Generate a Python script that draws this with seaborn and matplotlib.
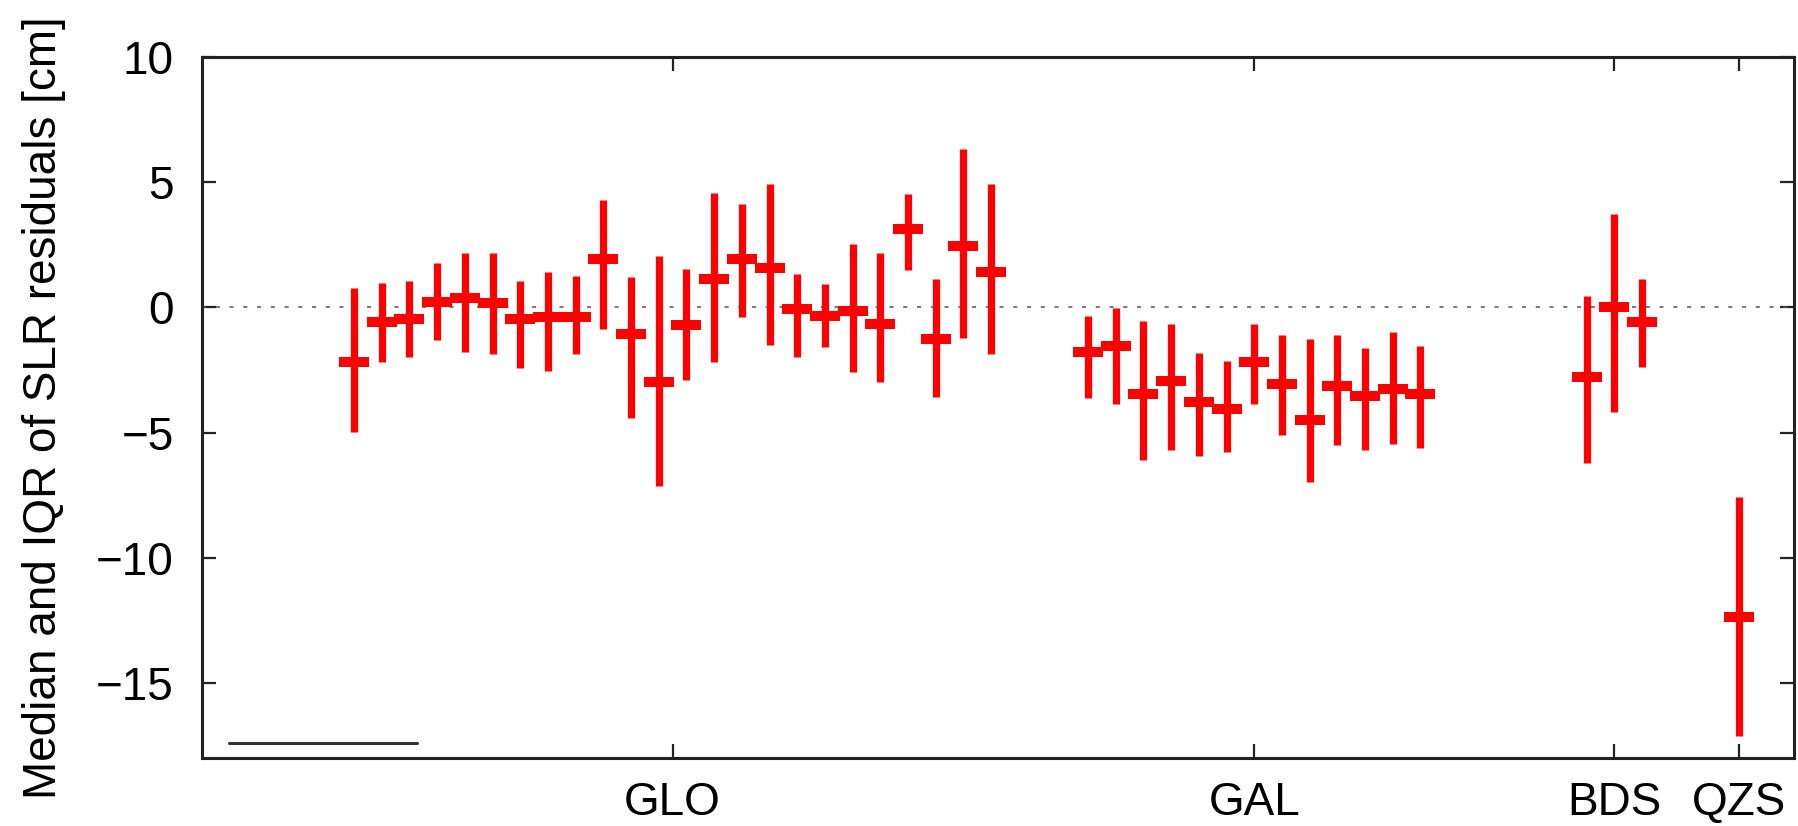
import numpy as np
import pandas as pd
import matplotlib
matplotlib.use("Agg")
import matplotlib.pyplot as plt
import seaborn as sns
from matplotlib.path import Path
from matplotlib.lines import Line2D

# ---------------- data ----------------
systems = ["GLO", "GAL", "BDS", "QZS"]

glo_median = [-2.17, -0.57, -0.47, 0.23, 0.36, 0.17, -0.47, -0.40, -0.37, 1.93, -1.08, -2.97,
              -0.69, 1.12, 1.93, 1.56, -0.07, -0.36, -0.16, -0.68, 3.14, -1.28, 2.43, 1.42]
glo_low = [-4.99, -2.19, -1.99, -1.30, -1.77, -1.86, -2.41, -2.53, -1.88, -0.86, -4.40, -7.14,
           -2.89, -2.19, -0.37, -1.49, -1.97, -1.58, -2.59, -2.97, 1.50, -3.60, -1.21, -1.88]
glo_high = [0.76, 0.96, 1.04, 1.76, 2.15, 2.15, 1.04, 1.42, 1.24, 4.28, 1.22, 2.06,
            1.53, 4.55, 4.12, 4.92, 1.32, 0.93, 2.51, 2.15, 4.53, 1.12, 6.32, 4.92]

gal_median = [-1.77, -1.56, -3.48, -2.95, -3.78, -4.07, -2.17, -3.08, -4.48, -3.15, -3.56, -3.26, -3.48]
gal_low = [-3.62, -3.88, -6.10, -5.68, -5.92, -5.76, -3.88, -5.09, -6.98, -5.48, -5.69, -5.47, -5.61]
gal_high = [-0.36, -0.04, -0.53, -0.66, -1.84, -2.15, -0.66, -1.09, -1.26, -1.09, -1.64, -1.00, -1.56]

bds_median = [-2.77, 0.03, -0.57]
bds_low = [-6.21, -4.19, -2.39]
bds_high = [0.44, 3.72, 1.13]

qzs_median = [-12.37]
qzs_low = [-17.11]
qzs_high = [-7.58]

y_ticks = [-15, -10, -5, 0, 5, 10]
y_label = "Median and IQR of SLR residuals [cm]"

# ---------------- layout ----------------
group_start = {"GLO": 1.0, "GAL": 27.5, "BDS": 45.5, "QZS": 51.0}
series = {
    "GLO": (glo_median, glo_low, glo_high),
    "GAL": (gal_median, gal_low, gal_high),
    "BDS": (bds_median, bds_low, bds_high),
    "QZS": (qzs_median, qzs_low, qzs_high),
}
rows = []
for s in systems:
    med, lo, hi = series[s]
    for i, (m, l, h) in enumerate(zip(med, lo, hi)):
        rows.append({"system": s, "x": group_start[s] + i, "median": m, "lo": l, "hi": h})
df = pd.DataFrame(rows)
centers = df.groupby("system", sort=False)["x"].mean().reindex(systems)

sns.set_style("ticks")
plt.rcParams["font.family"] = ["Liberation Sans", "DejaVu Sans"]

fig, ax = plt.subplots(figsize=(17.98, 8.26), dpi=100)
fig.subplots_adjust(left=0.1122, right=0.99795, top=0.93136, bottom=0.08196)

ax.axhline(0, color="#555555", lw=1.1, linestyle=(0, (2.7, 6.3)), zorder=1)

lc = ax.vlines(df["x"], df["lo"], df["hi"], color="#ff0000", lw=5.2, zorder=2)
lc.set_capstyle("butt")

rect = Path([(-0.5, -0.175), (0.5, -0.175), (0.5, 0.175), (-0.5, 0.175), (-0.5, -0.175)],
            [Path.MOVETO, Path.LINETO, Path.LINETO, Path.LINETO, Path.CLOSEPOLY])
sns.scatterplot(data=df, x="x", y="median", marker=rect, s=21.0 ** 2, color="#ff0000",
                linewidth=0, ax=ax, zorder=3, legend=False)

ax.set_xlim(-4.5, 53.0)
ax.set_ylim(-18, 10)
ax.set_xticks(centers.values)
ax.set_xticklabels(systems)
ax.set_yticks(y_ticks)
ax.set_xlabel("")
ax.set_ylabel(y_label, fontsize=33, labelpad=22, color="black")

ax.tick_params(direction="in", length=10, width=1.6, colors="#222222", labelcolor="black",
               top=True, right=True, labelsize=33)
ax.tick_params(axis="x", pad=16)
ax.tick_params(axis="y", pad=20)
for sp in ax.spines.values():
    sp.set_linewidth(2.2)
    sp.set_color("#222222")

key = Line2D([], [], color="#333333", lw=2.2)
ax.legend(handles=[key], labels=[""], loc="center left", bbox_to_anchor=(0.0173, 0.020),
          frameon=False, fontsize=10, handlelength=13.5, borderpad=0, borderaxespad=0,
          handletextpad=0)

fig.savefig("out.png", dpi=100)
